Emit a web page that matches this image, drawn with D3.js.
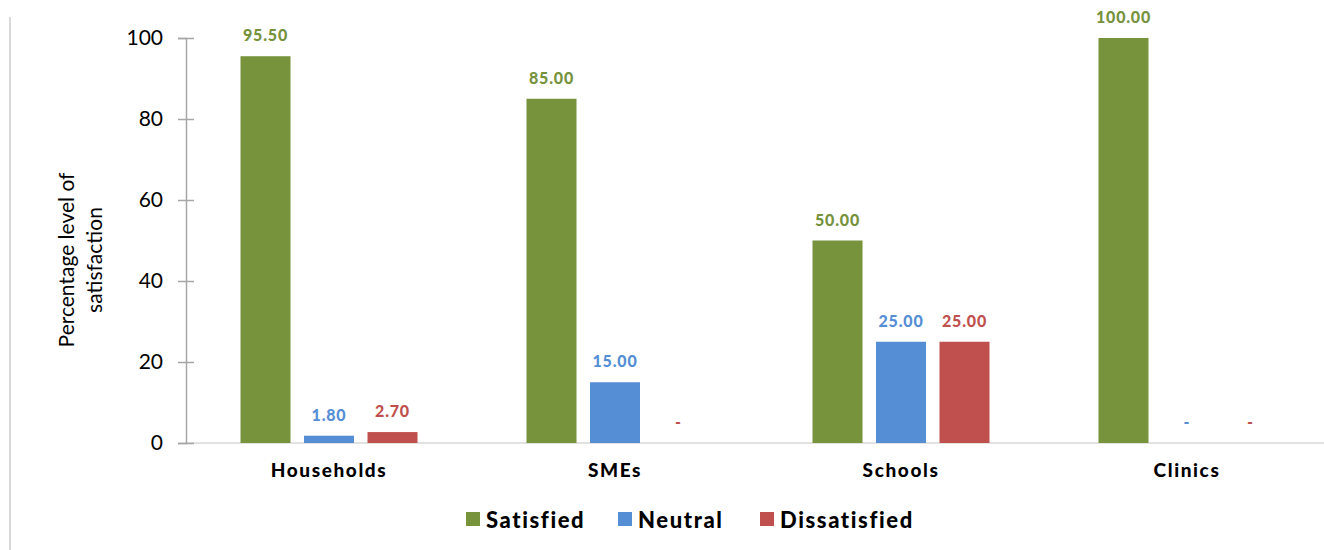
<!DOCTYPE html>
<html>
<head>
<meta charset="utf-8">
<script src="https://cdn.jsdelivr.net/npm/d3@7"></script>
<style>
  body { margin: 0; background: #fff; }
  svg { font-family: Lato, "Open Sans", sans-serif; }
</style>
</head>
<body>
<svg id="chart" width="1324" height="550"></svg>
<script>
// data
var categories = ["Households", "SMEs", "Schools", "Clinics"];
var seriesNames = ["Satisfied", "Neutral", "Dissatisfied"];
var satisfied = [95.5, 85, 50, 100];
var neutral = [1.8, 15, 25, 0];
var dissatisfied = [2.7, 0, 25, 0];
var yTicks = [0, 20, 40, 60, 80, 100];

var colors = ["#77933C", "#558ED5", "#C0504D"];
var labelColors = ["#76923C", "#558ED5", "#C0504D"];

var rows = [];
categories.forEach(function(c, i) {
    [satisfied, neutral, dissatisfied].forEach(function(s, j) {
        rows.push({cat: c, series: seriesNames[j], value: s[i], idx: j});
    });
});

var svg = d3.select("#chart");

// frame line on the left
svg.append("line")
    .attr("x1", 10).attr("x2", 10)
    .attr("y1", 17).attr("y2", 550)
    .attr("stroke", "#d9d9d9")
    .attr("stroke-width", 2);

var plotLeft = 186, plotRight = 1330, plotTop = 38, plotBottom = 443;

var x0 = d3.scaleBand()
    .domain(categories)
    .range([plotLeft, plotRight])
    .paddingInner(0)
    .paddingOuter(0);

var step = 63.5;
var x1 = d3.scaleBand()
    .domain(seriesNames)
    .range([-1.5 * step, 1.5 * step])
    .paddingInner(13.5 / 63.5)
    .paddingOuter(13.5 / 63.5 / 2);

var y = d3.scaleLinear()
    .domain([0, 100])
    .range([plotBottom, plotTop]);

// x baseline
svg.append("line")
    .attr("x1", plotLeft).attr("x2", 1324)
    .attr("y1", y(0)).attr("y2", y(0))
    .attr("stroke", "#d9d9d9")
    .attr("stroke-width", 1.5);

// y axis
var yAxis = svg.append("g")
    .attr("transform", "translate(" + plotLeft + ",0)")
    .call(d3.axisLeft(y).tickValues(yTicks).tickSize(8).tickPadding(14));

yAxis.select(".domain").attr("stroke", "#a6a6a6").attr("stroke-width", 1.5);
yAxis.selectAll(".tick line").attr("stroke", "#a6a6a6").attr("stroke-width", 1.5).attr("x2", 8).attr("x1", -8);
yAxis.selectAll(".tick text")
    .attr("x", -23)
    .style("font-size", "21px")
    .style("font-family", "Lato, sans-serif")
    .attr("fill", "#000");

// y title
svg.append("text")
    .attr("transform", "translate(74,260) rotate(-90)")
    .attr("text-anchor", "middle")
    .style("font-size", "21px")
    .text("Percentage level of");
svg.append("text")
    .attr("transform", "translate(102,260) rotate(-90)")
    .attr("text-anchor", "middle")
    .style("font-size", "21px")
    .text("satisfaction");

// bars
var cx = function(d) { return x0(d.cat) + x0.bandwidth() / 2 + x1(d.series); };

svg.selectAll(".bar")
    .data(rows.filter(function(d) { return d.value > 0; }))
    .enter()
    .append("rect")
    .attr("class", "bar")
    .attr("x", cx)
    .attr("y", function(d) { return y(d.value); })
    .attr("width", x1.bandwidth())
    .attr("height", function(d) { return y(0) - y(d.value); })
    .attr("fill", function(d) { return colors[d.idx]; });

// value labels
svg.selectAll(".lbl")
    .data(rows)
    .enter()
    .append("text")
    .attr("class", "lbl")
    .attr("x", function(d) { return cx(d) + x1.bandwidth() / 2; })
    .attr("y", function(d) { return y(d.value) - 15; })
    .attr("text-anchor", "middle")
    .style("font-size", "16px")
    .style("font-weight", "900")
    .style("letter-spacing", "0.8px")
    .attr("fill", function(d) { return labelColors[d.idx]; })
    .text(function(d) { return d.value > 0 ? d.value.toFixed(2) : "-"; });

// category labels
svg.selectAll(".cat")
    .data(categories)
    .enter()
    .append("text")
    .attr("class", "cat")
    .attr("x", function(d) { return x0(d) + x0.bandwidth() / 2; })
    .attr("y", 477)
    .attr("text-anchor", "middle")
    .style("font-size", "19px")
    .style("font-weight", "900")
    .style("letter-spacing", "1.6px")
    .text(function(d) { return d; });

// legend
var legendX = [466, 618, 760];
var legend = svg.selectAll(".leg")
    .data(seriesNames)
    .enter()
    .append("g")
    .attr("class", "leg")
    .attr("transform", function(d, i) { return "translate(" + legendX[i] + ",512)"; });

legend.append("rect")
    .attr("width", 14).attr("height", 14)
    .attr("fill", function(d, i) { return colors[i]; });

legend.append("text")
    .attr("x", 20)
    .attr("y", 16)
    .style("font-size", "22px")
    .style("font-weight", "900")
    .style("letter-spacing", "1.6px")
    .text(function(d) { return d; });
</script>
</body>
</html>
